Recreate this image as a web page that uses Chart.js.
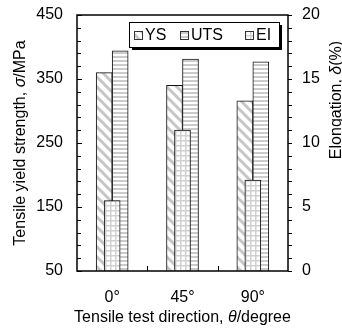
<!DOCTYPE html>
<html>
<head>
<meta charset="utf-8">
<script src="https://cdn.jsdelivr.net/npm/chart.js@4.4.0/dist/chart.umd.min.js"></script>
<style>
html, body { margin: 0; padding: 0; background: #fff; }
canvas { display: block; }
</style>
</head>
<body>
<canvas id="barChart" width="342" height="330"></canvas>
<script>
// data
var categories = ['0°', '45°', '90°'];
var ysValues = [360, 340, 316];     // MPa, left axis
var utsValues = [394, 381, 377];    // MPa, left axis
var elValues = [5.5, 11.0, 7.1];    // %, right axis
var seriesNames = ['YS', 'UTS', 'EI'];
var leftRange = [50, 450];
var rightRange = [0, 20];

var FONT = '"Liberation Sans", Arial, sans-serif';

function makePattern(kind) {
    var c = document.createElement('canvas');
    var g = c.getContext('2d');
    if (kind === 'diag') {
        c.width = 10; c.height = 10;
        g.fillStyle = '#fff'; g.fillRect(0, 0, 10, 10);
        g.strokeStyle = '#c6c6c6'; g.lineWidth = 3;
        g.beginPath();
        for (var k = -10; k <= 10; k += 10) {
            g.moveTo(k - 2, -2); g.lineTo(k + 12, 12);
        }
        g.stroke();
    } else if (kind === 'horiz') {
        c.width = 4; c.height = 4;
        g.fillStyle = '#fff'; g.fillRect(0, 0, 4, 4);
        g.fillStyle = '#cbcbcb'; g.fillRect(0, 0, 4, 2);
    } else {
        c.width = 5; c.height = 5;
        g.fillStyle = '#fff'; g.fillRect(0, 0, 5, 5);
        g.fillStyle = '#d0d0d0';
        g.fillRect(0, 0, 5, 1.5);
        g.fillRect(0, 0, 1.5, 5);
    }
    return g.createPattern(c, 'repeat');
}

var fills = [makePattern('diag'), makePattern('horiz'), makePattern('grid')];

function drawRich(ctx, parts, x, y, rot) {
    ctx.save();
    ctx.translate(x, y);
    ctx.rotate(rot);
    var total = 0;
    parts.forEach(function (p) {
        ctx.font = (p.i ? 'italic ' : '') + '16px ' + FONT;
        p.w = ctx.measureText(p.t).width;
        total += p.w;
    });
    var cx = -total / 2;
    ctx.textAlign = 'left';
    ctx.textBaseline = 'middle';
    ctx.fillStyle = '#000';
    parts.forEach(function (p) {
        ctx.font = (p.i ? 'italic ' : '') + '16px ' + FONT;
        ctx.fillText(p.t, cx, 0);
        cx += p.w;
    });
    ctx.restore();
}

var framePlugin = {
    id: 'frame',
    afterDraw: function (chart) {
        var ctx = chart.ctx;
        var a = chart.chartArea;
        var y = chart.scales.y, y1 = chart.scales.y1, x = chart.scales.x;
        ctx.save();
        ctx.strokeStyle = '#000';
        ctx.lineWidth = 1;
        // ticks on left axis (inward)
        ctx.beginPath();
        for (var v = leftRange[0]; v <= leftRange[1]; v += 20) {
            var py = Math.round(y.getPixelForValue(v)) + 0.5;
            var len = (v - 50) % 100 === 0 ? 5 : 4;
            ctx.moveTo(a.left, py); ctx.lineTo(a.left + len, py);
        }
        // ticks on right axis (outward)
        for (var w = rightRange[0]; w <= rightRange[1]; w += 1) {
            var qy = Math.round(y1.getPixelForValue(w)) + 0.5;
            ctx.moveTo(a.right, qy); ctx.lineTo(a.right + 4, qy);
        }
        // category boundary ticks on x axis
        for (var i = 1; i < categories.length; i++) {
            var px = Math.round((x.getPixelForValue(i - 1) + x.getPixelForValue(i)) / 2) + 0.5;
            ctx.moveTo(px, a.bottom); ctx.lineTo(px, a.bottom - 5);
        }
        ctx.stroke();
        // frame
        ctx.lineWidth = 1.5;
        ctx.strokeRect(a.left, a.top, a.right - a.left, a.bottom - a.top);

        // legend box with shadow
        var lx = 129, ly = 22, lw = 150, lh = 25;
        ctx.fillStyle = '#000';
        ctx.fillRect(lx + 3, ly + 3, lw, lh);
        ctx.fillStyle = '#fff';
        ctx.fillRect(lx, ly, lw, lh);
        ctx.lineWidth = 1;
        ctx.strokeRect(lx + 0.5, ly + 0.5, lw, lh);
        var sx = [134, 180, 245];
        ctx.font = '16px ' + FONT;
        ctx.textBaseline = 'middle';
        ctx.textAlign = 'left';
        for (var s = 0; s < 3; s++) {
            ctx.fillStyle = fills[s];
            ctx.fillRect(sx[s], 31, 8, 8);
            ctx.strokeStyle = '#333';
            ctx.strokeRect(sx[s] + 0.5, 31.5, 8, 8);
            ctx.fillStyle = '#000';
            ctx.fillText(seriesNames[s], sx[s] + 11, 35.5);
        }

        // axis titles
        drawRich(ctx, [{t: 'Tensile test direction, '}, {t: 'θ', i: true}, {t: '/degree'}],
            (a.left + a.right) / 2, 318, 0);
        drawRich(ctx, [{t: 'Tensile yield strength, '}, {t: 'σ', i: true}, {t: '/MPa'}],
            21, (a.top + a.bottom) / 2, -Math.PI / 2);
        drawRich(ctx, [{t: 'Elongation, '}, {t: 'δ', i: true}, {t: '(%)'}],
            337, 100, -Math.PI / 2);
        ctx.restore();
    }
};

function fitY(width) {
    return function (s) {
        s.width = width;
        s.paddingTop = 0;
        s.paddingBottom = 0;
    };
}

var ctx = document.getElementById('barChart').getContext('2d');
var myChart = new Chart(ctx, {
    type: 'bar',
    data: {
        labels: categories,
        datasets: [{
            label: seriesNames[0],
            data: ysValues,
            yAxisID: 'y',
            backgroundColor: fills[0],
            borderColor: '#111',
            borderWidth: 1,
            barThickness: 16
        }, {
            label: seriesNames[1],
            data: utsValues,
            yAxisID: 'y',
            backgroundColor: fills[1],
            borderColor: '#111',
            borderWidth: 1,
            barThickness: 16
        }, {
            label: seriesNames[2],
            data: elValues,
            yAxisID: 'y1',
            backgroundColor: fills[2],
            borderColor: '#111',
            borderWidth: 1,
            barThickness: 16,
            grouped: false,
            order: -1
        }]
    },
    options: {
        responsive: false,
        animation: false,
        layout: { padding: { top: 15 } },
        plugins: { legend: { display: false }, tooltip: { enabled: false } },
        scales: {
            x: {
                grid: { display: false, drawTicks: false },
                border: { display: false },
                ticks: { color: '#000', font: { family: FONT, size: 16 }, padding: 17 },
                afterFit: function (s) { s.height = 59; s.paddingLeft = 0; s.paddingRight = 0; }
            },
            y: {
                position: 'left',
                min: leftRange[0], max: leftRange[1],
                grid: { display: false, drawTicks: false },
                border: { display: false },
                ticks: { stepSize: 100, color: '#000', font: { family: FONT, size: 16 }, padding: 14 },
                afterFit: fitY(77)
            },
            y1: {
                position: 'right',
                min: rightRange[0], max: rightRange[1],
                grid: { display: false, drawTicks: false },
                border: { display: false },
                ticks: { stepSize: 5, color: '#000', font: { family: FONT, size: 16 }, padding: 14 },
                afterFit: fitY(54)
            }
        }
    },
    plugins: [framePlugin]
});
</script>
</body>
</html>
